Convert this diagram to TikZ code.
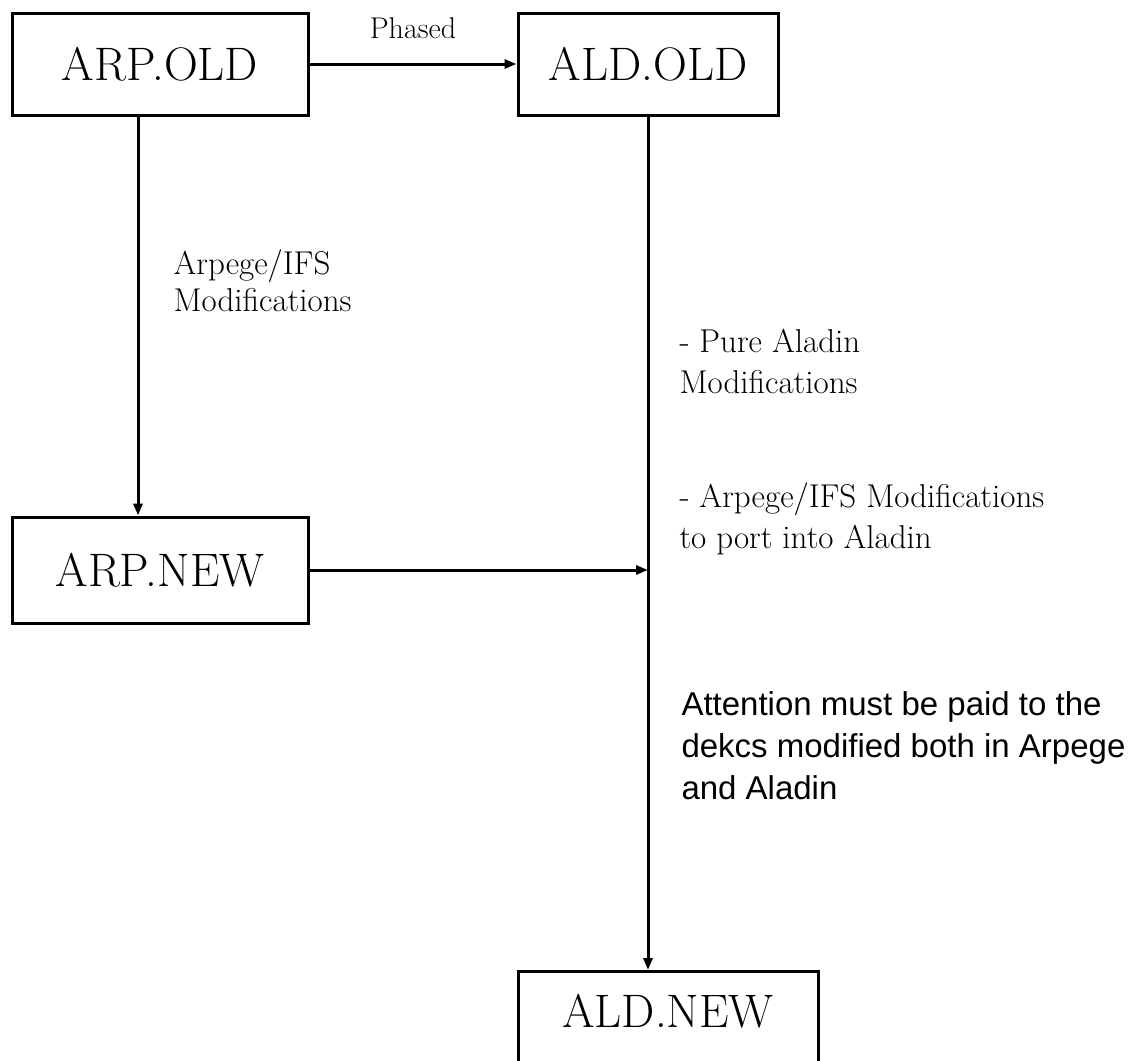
\documentclass[tikz,border=0pt]{standalone}
\usepackage{fontspec}
\newfontfamily\notesans{Liberation Sans}
\usetikzlibrary{
  arrows.meta,  % Arrow tip "Triangle"
}
\tikzset{
  >={Triangle[length=6pt,width=4.5pt]},
  flow chart/.style={
    x=0.5pt,
    y=-0.5pt,
    line width=1.5pt
  },
  my box/.style={
    draw,
    rectangle,
    inner sep=0pt,
    minimum width=148pt,
    minimum height=51pt,
    font=\fontsize{23.5}{28}\selectfont
  },
  my note/.style={
    anchor=north west,
    align=left,
    inner sep=0pt,
    font=\fontsize{16.5}{20.5}\selectfont
  },
  my sans note/.style={
    my note,
    font=\notesans\fontsize{16.5}{21}\selectfont
  }
}

\begin{document}
\begin{tikzpicture}[flow chart]
\clip (0,0) rectangle (1131,1061);
\node[my box] (arpold) at (160,64) {ARP.OLD};
\node[my box,minimum width=130pt] (aldold) at (648,64) {ALD.OLD};
\node[my box,minimum height=53pt] (arpnew) at (160,570) {ARP.NEW};
\node[my box,minimum width=150pt,minimum height=0pt,
      text height=28pt,text depth=26pt,anchor=north] (aldnew) at (668,970) {ALD.NEW};
\coordinate (merge) at (arpnew.east -| aldold.south);
\draw[->] (arpold) -- node[above=12pt,inner sep=0pt,font=\fontsize{15}{18}\selectfont] (phased) {Phased} (aldold);
\draw[->] ([xshift=-11pt]arpold.south) -- ([xshift=-11pt]arpnew.north);
\draw[->] (arpnew.east) -- (merge);
\draw[->] (aldold.south) -- (aldold.south |- aldnew.north);
% notes along the lines
\node[my note,font=\fontsize{16.5}{18.5}\selectfont] (arpmods) at (172,248) {Arpege/IFS\\Modifications};
\node[my note] (puremods) at (678,328) {- Pure Aladin\\Modifications};
\node[my note] (portmods) at (678,481) {- Arpege/IFS Modifications\\to port into Aladin};
\node[my sans note] (attention) at (680,690) {Attention must be paid to the\\dekcs modified both in Arpege\\and Aladin};
\end{tikzpicture}
\end{document}
